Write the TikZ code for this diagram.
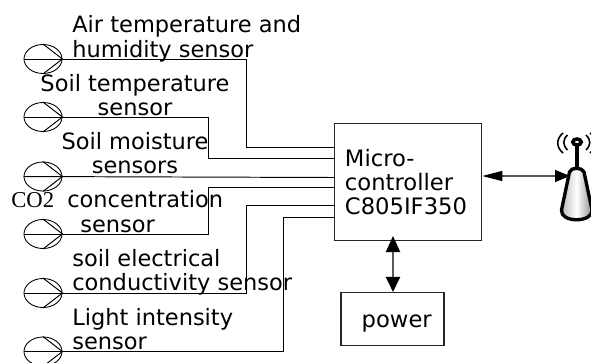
\documentclass[tikz,border=0pt]{standalone}
\usepackage{fontspec}
\setmainfont{DejaVu Sans}
\newfontfamily\coserif{Liberation Serif}
\usepackage{tikz}
\usetikzlibrary{shapes.geometric,arrows.meta}

\tikzset{
  sensor/.style={ellipse,draw,line width=0.5pt,minimum width=0.76cm,minimum height=0.58cm,inner sep=0pt},
  wire/.style={line width=0.55pt,black},
  caption/.style={font=\fontsize{12.8}{13.9}\selectfont,inner sep=0pt,anchor=base west},
  captionmid/.style={font=\fontsize{12.8}{13.9}\selectfont,inner sep=0pt,anchor=base,align=center},
  block/.style={draw,line width=0.6pt,black!85,text=black,inner sep=0pt,font=\fontsize{12.9}{13.9}\selectfont}
}

\begin{document}
\begin{tikzpicture}[x=0.02cm,y=-0.02cm]
\useasboundingbox (0,0) rectangle (591,362);
\clip (0,0) rectangle (591,362);

\begin{scope}[every node/.style={sensor}]
\node (s1) at (43,59)  {};
\node (s2) at (43,117) {};
\node (s3) at (43,176.5) {};
\node (s4) at (43,234) {};
\node (s5) at (43,293) {};
\node (s6) at (43,351.5) {};
\end{scope}

\draw[wire] (s1.north) -- (s1.east) -- (s1.south);
\draw[wire] (s2.north) -- (s2.east) -- (s2.south);
\draw[wire] (s3.north) -- (s3.east) -- (s3.south);
\draw[wire] (s4.north) -- (s4.east) -- (s4.south);
\draw[wire] (s5.north) -- (s5.east) -- (s5.south);
\draw[wire] (s6.north) -- (s6.east) -- (s6.south);

\node[block,minimum width=2.95cm,minimum height=2.33cm,align=left] (mcu) at (408,182) {Micro-\\controller\\C805IF350\hspace*{0.08cm}};
\node[block,minimum width=2.06cm,minimum height=1.06cm] (power) at (392.5,319) {\hspace*{0.17cm}\raisebox{-0.09cm}[\height][\depth]{power}};

\coordinate (in1) at (334,147);
\coordinate (in2) at (334,158);
\coordinate (in3) at (334,177.5);
\coordinate (in4) at (334,187.5);
\coordinate (in5) at (334,205);
\coordinate (in6) at (334,217);

\draw[wire] (s1.west) -- (246,59) |- (in1);
\draw[wire] (s2.west) -- (208.5,117) |- (in2);
\draw[wire] (s3.west) -- (in3);
\draw[wire] (s4.west) -- (208.5,234) |- (in4);
\draw[wire] (s5.west) -- (246,293) |- (in5);
\draw[wire] (s6.west) -- (283,351.5) |- (in6);

\node[caption] (t1) at (72,32) {Air temperature and};
\node[caption] (t1b) at (72,57) {humidity sensor};
\node[captionmid] (t2) at (135,91) {Soil temperature};
\node[captionmid] (t2b) at (135,115) {sensor};
\node[captionmid] (t3) at (135,149) {Soil moisture};
\node[captionmid] (t3b) at (135,173) {sensors};
\node[caption,font=\coserif\fontsize{12.9}{13.9}\selectfont] (co2) at (11,207) {CO2};
\node[caption] (t4) at (67,207) {concentration};
\node[caption] (t4b) at (80,232) {sensor};
\node[caption] (t5) at (72,266) {soil electrical};
\node[caption] (t5b) at (72,290) {conductivity sensor};
\node[caption] (t6) at (72,325) {Light intensity};
\node[caption] (t6b) at (72,349) {sensor};

% antenna
\draw[line width=1.9pt,left color=black!30,right color=black!45,middle color=white] (569.5,172) -- (561.5,210) .. controls (560,223) and (593,223) .. (592,210) -- (584,172) .. controls (582,167) and (571,167) .. (569.5,172) -- cycle;
\draw[line width=2pt] (577,170) -- (577,146);
\node[ellipse,draw,line width=2pt,fill=white,minimum width=0.17cm,minimum height=0.12cm,inner sep=0pt] (ant) at (577,142) {};
\draw[line width=0.9pt] (563,133) .. controls (556,139) and (556,147) .. (563,153);
\draw[line width=0.9pt] (567.5,135) .. controls (562.5,140) and (562.5,145) .. (567.5,150);
\draw[line width=0.9pt] (586,135) .. controls (591,140) and (591,145) .. (586,150);
\draw[line width=0.9pt] (590,133) .. controls (597,139) and (597,147) .. (590,153);
\coordinate (antport) at (570,176);
\coordinate (mcuport) at (393,236);

\draw[line width=0.7pt,black!65,{Triangle[length=0.4cm,width=0.2cm,black]}-{Triangle[length=0.3cm,width=0.24cm,black]}] (mcu.east |- antport) -- (antport);
\draw[line width=1.1pt,black!65,{Triangle[length=0.32cm,width=0.28cm,black]}-{Triangle[length=0.3cm,width=0.28cm,black]}] (mcuport) -- (power.north -| mcuport);
\end{tikzpicture}
\end{document}
